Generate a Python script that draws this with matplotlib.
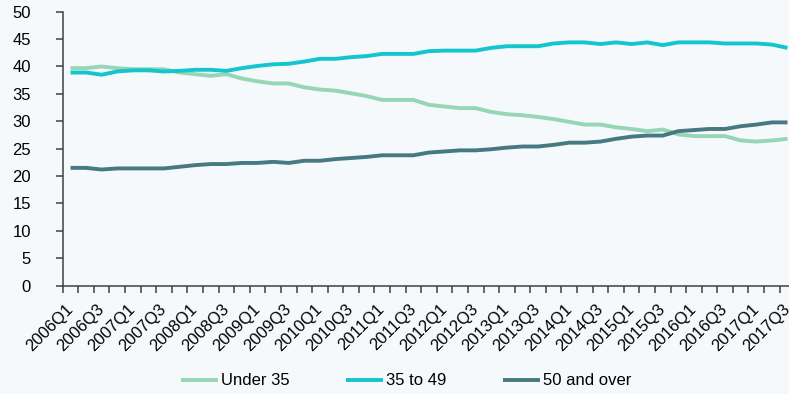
import matplotlib
matplotlib.use("Agg")
import matplotlib.pyplot as plt
import numpy as np

quarters = [f"{y}Q{q}" for y in range(2006, 2018) for q in range(1, 5)][:47]

under_35 = [39.7, 39.7, 40.0, 39.7, 39.5, 39.5, 39.5, 38.9, 38.6, 38.3,
            38.6, 37.8, 37.3, 36.9, 36.9, 36.2, 35.8, 35.6, 35.1, 34.6,
            33.9, 33.9, 33.9, 33.0, 32.7, 32.4, 32.4, 31.7, 31.3, 31.1,
            30.8, 30.4, 29.9, 29.4, 29.4, 28.9, 28.6, 28.2, 28.5, 27.6,
            27.3, 27.3, 27.3, 26.5, 26.3, 26.5, 26.8]
age_35_49 = [38.9, 38.9, 38.5, 39.1, 39.3, 39.3, 39.1, 39.2, 39.4, 39.4,
             39.2, 39.7, 40.1, 40.4, 40.5, 40.9, 41.4, 41.4, 41.7, 41.9,
             42.3, 42.3, 42.3, 42.8, 42.9, 42.9, 42.9, 43.4, 43.7, 43.7,
             43.7, 44.2, 44.4, 44.4, 44.1, 44.4, 44.1, 44.4, 43.9, 44.4,
             44.4, 44.4, 44.2, 44.2, 44.2, 44.0, 43.4]
over_50 = [21.5, 21.5, 21.2, 21.4, 21.4, 21.4, 21.4, 21.7, 22.0, 22.2,
           22.2, 22.4, 22.4, 22.6, 22.4, 22.8, 22.8, 23.1, 23.3, 23.5,
           23.8, 23.8, 23.8, 24.3, 24.5, 24.7, 24.7, 24.9, 25.2, 25.4,
           25.4, 25.7, 26.1, 26.1, 26.3, 26.8, 27.2, 27.4, 27.4, 28.2,
           28.4, 28.6, 28.6, 29.1, 29.4, 29.8, 29.8]

series = [("Under 35", under_35, "#96d5b5"),
          ("35 to 49", age_35_49, "#13c6cd"),
          ("50 and over", over_50, "#467a80")]

plt.rcParams['font.family'] = ['Liberation Sans', 'DejaVu Sans']
bg = "#f5f9fb"

fig = plt.figure(figsize=(7.89, 3.94), dpi=100, facecolor=bg)
ax = fig.add_axes([0.0795, 0.2749, 0.9284, 0.6954], facecolor=bg)

x = np.arange(len(quarters))
for name, vals, col in series:
    ax.plot(x, vals, color=col, linewidth=2.8, label=name, solid_capstyle='butt')

ax.set_xlim(-0.5, len(quarters) - 0.5)
ax.set_ylim(0, 50)
ax.set_yticks(range(0, 51, 5))

ax.set_xticks(x[::2])
ax.set_xticklabels(quarters[::2], rotation=45, ha='right', va='center',
                   rotation_mode='anchor', fontsize=12)
ax.tick_params(axis='x', which='major', length=0, pad=15)
ax.set_xticks(np.arange(-0.5, len(quarters), 1), minor=True)
ax.tick_params(axis='x', which='minor', length=5, width=1.1, color='#404040',
               direction='out')
ax.tick_params(axis='y', length=5, width=1.1, color='#404040', pad=18,
               labelsize=12)

for s in ['top', 'right']:
    ax.spines[s].set_visible(False)
for s in ['left', 'bottom']:
    ax.spines[s].set_color('#404040')
    ax.spines[s].set_linewidth(1.1)

fig.legend(loc='center', bbox_to_anchor=(0.515, 0.033), ncol=3, frameon=False,
           fontsize=12, handlelength=2.2, handletextpad=0.2, columnspacing=3.4)

fig.savefig("out.png", dpi=100, facecolor=bg)
